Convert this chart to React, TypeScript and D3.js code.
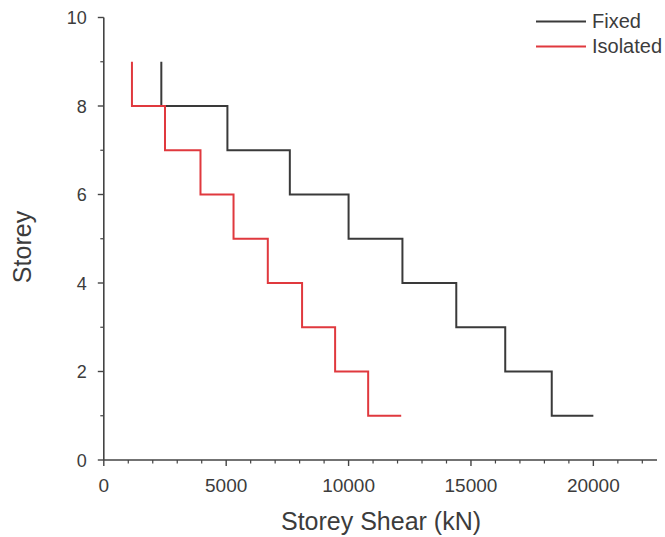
import React from "react";
import * as d3 from "d3";

const storeys = [9, 8, 7, 6, 5, 4, 3, 2, 1];
const fixedShear = [2350, 5050, 7600, 10000, 12200, 14400, 16400, 18300, 20000];
const isolatedShear = [1150, 2500, 3950, 5300, 6700, 8100, 9450, 10800, 12150];
const xTicks = [0, 5000, 10000, 15000, 20000];
const yTicks = [0, 2, 4, 6, 8, 10];
const seriesNames = ["Fixed", "Isolated"];
const seriesColors = ["#3a3a3a", "#e0393e"];

const W = 665;
const H = 537;

function stepPath(shear: number[], x: d3.ScaleLinear<number, number>, y: d3.ScaleLinear<number, number>) {
  // start at (shear0, top storey), step down a storey, then across to the next shear
  const p: [number, number][] = [];
  p.push([x(shear[0]), y(storeys[0])]);
  for (let i = 0; i < shear.length - 1; i++) {
    const lvl = storeys[i] - 1;
    p.push([x(shear[i]), y(lvl)]);
    p.push([x(shear[i + 1]), y(lvl)]);
  }
  return d3.line()(p) || "";
}

export default function App() {
  const x = d3.scaleLinear().domain([0, 22600]).range([103.8, 657]);
  const y = d3.scaleLinear().domain([0, 10]).range([460, 17.5]);
  const minorX = d3.range(0, 22001, 1000).filter((v) => v % 5000 !== 0);
  const minorY = [1, 3, 5, 7, 9];
  const axisColor = "#444";
  const textColor = "#3c3c3c";
  const font = "'Liberation Sans', Arial, sans-serif";
  return (
    <svg width={W} height={H} style={{ position: "absolute", left: 0, top: 0, background: "#fff" }} fontFamily={font}>
      {/* series */}
      <path d={stepPath(fixedShear, x, y)} fill="none" stroke={seriesColors[0]} strokeWidth={2} />
      <path d={stepPath(isolatedShear, x, y)} fill="none" stroke={seriesColors[1]} strokeWidth={2} />
      {/* x axis */}
      <line x1={x(0)} x2={657} y1={y(0)} y2={y(0)} stroke={axisColor} strokeWidth={1.6} />
      {xTicks.map((t) => (
        <g key={"xt" + t}>
          <line x1={x(t)} x2={x(t)} y1={y(0)} y2={y(0) + 6} stroke={axisColor} strokeWidth={1.4} />
          <text x={x(t)} y={y(0) + 32} textAnchor="middle" fontSize={19} fill={textColor}>{t}</text>
        </g>
      ))}
      {minorX.map((t) => (
        <line key={"xm" + t} x1={x(t)} x2={x(t)} y1={y(0)} y2={y(0) + 3.5} stroke={axisColor} strokeWidth={1.2} />
      ))}
      {/* y axis */}
      <line x1={x(0)} x2={x(0)} y1={y(0)} y2={y(10)} stroke={axisColor} strokeWidth={1.6} />
      {yTicks.map((t) => (
        <g key={"yt" + t}>
          <line x1={x(0) - 6} x2={x(0)} y1={y(t)} y2={y(t)} stroke={axisColor} strokeWidth={1.4} />
          <text x={x(0) - 17} y={y(t) + 6.5} textAnchor="end" fontSize={18} fill={textColor}>{t}</text>
        </g>
      ))}
      {minorY.map((t) => (
        <line key={"ym" + t} x1={x(0) - 3.5} x2={x(0)} y1={y(t)} y2={y(t)} stroke={axisColor} strokeWidth={1.2} />
      ))}
      {/* titles */}
      <text x={381} y={530} textAnchor="middle" fontSize={25} fill={textColor}>Storey Shear (kN)</text>
      <text transform="translate(31,247) rotate(-90)" textAnchor="middle" fontSize={25} fill={textColor}>Storey</text>
      {/* legend */}
      {seriesNames.map((n, i) => (
        <g key={n}>
          <line x1={536} x2={586} y1={21.5 + i * 25} y2={21.5 + i * 25} stroke={seriesColors[i]} strokeWidth={2} />
          <text x={592} y={28 + i * 24.5} fontSize={20} fill={textColor}>{n}</text>
        </g>
      ))}
    </svg>
  );
}
